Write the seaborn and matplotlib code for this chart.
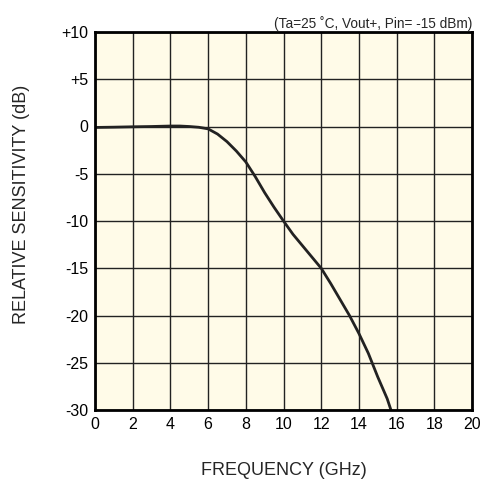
import matplotlib
matplotlib.use("Agg")
import matplotlib.pyplot as plt
import seaborn as sns
import pandas as pd

freq = [0, 1, 2, 3, 4, 4.5, 5, 5.5, 6, 6.5, 7, 7.5, 8, 8.5, 9, 9.5, 10,
        10.5, 11, 11.5, 12, 12.5, 13, 13.5, 14, 14.5, 15, 15.5, 15.7]
sens = [-0.1, -0.07, -0.03, 0.0, 0.05, 0.05, 0.0, -0.08, -0.25, -0.8, -1.6, -2.6, -3.75, -5.3, -7.0, -8.55, -10.0,
        -11.4, -12.6, -13.8, -15.0, -16.6, -18.3, -20.0, -21.9, -24.0, -26.5, -28.8, -30.0]
x_ticks = [0, 2, 4, 6, 8, 10, 12, 14, 16, 18, 20]
y_ticks = [10, 5, 0, -5, -10, -15, -20, -25, -30]
y_tick_labels = ["+10", "+5", "0", "-5", "-10", "-15", "-20", "-25", "-30"]
title = "(Ta=25 \u02daC, Vout+, Pin= -15 dBm)"

sns.set_style("white")
plt.rcParams['font.family'] = ['Liberation Sans', 'DejaVu Sans']

fig = plt.figure(figsize=(4.83, 4.83), dpi=100)
ax = fig.add_axes([95/483, 73/483, 377/483, 378/483])
ax.set_facecolor("#FFFBE8")

df = pd.DataFrame({"f": freq, "s": sens})
sns.lineplot(data=df, x="f", y="s", ax=ax, color="#222222", lw=2.0, zorder=3,
             solid_joinstyle="round", solid_capstyle="round")

ax.set_xlim(0, 20)
ax.set_ylim(-30, 10)
ax.set_xticks(x_ticks)
ax.set_xticklabels([str(t) for t in x_ticks])
ax.set_yticks(y_ticks)
ax.set_yticklabels(y_tick_labels)
ax.grid(True, color="#222222", lw=1.0)
ax.set_axisbelow(False)
for sp in ax.spines.values():
    sp.set_visible(True)
    sp.set_color("black")
    sp.set_linewidth(2.0)
    sp.set_zorder(4)
ax.tick_params(axis="both", labelsize=11.5, length=0, colors="black")
ax.tick_params(axis="x", pad=5)
ax.tick_params(axis="y", pad=5)
ax.set_xlabel("FREQUENCY (GHz)", fontsize=13, va="center")
ax.xaxis.set_label_coords(0.5, -0.161)
ax.set_ylabel("RELATIVE SENSITIVITY (dB)", fontsize=13, va="center")
ax.yaxis.set_label_coords(-0.196, 0.544)
ax.set_title(title, fontsize=9.8, loc="right", pad=3)

fig.savefig("out.png", dpi=100)
